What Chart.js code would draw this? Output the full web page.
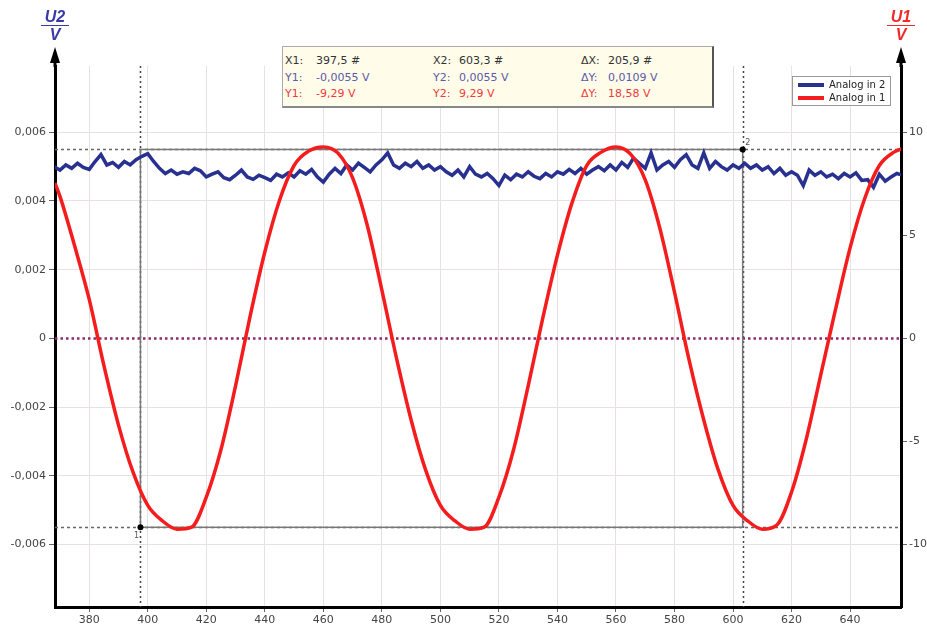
<!DOCTYPE html>
<html>
<head>
<meta charset="utf-8">
<script src="https://cdn.jsdelivr.net/npm/chart.js@4.4.1/dist/chart.umd.min.js"></script>
<style>
body { margin: 0; background: #fff; }
#wrap { position: relative; width: 927px; height: 635px; }
.title { position: absolute; width: 40px; text-align: center; font: italic bold 16px "Liberation Sans", Arial, sans-serif; }
.title .num { border-bottom: 1.5px solid currentColor; padding: 0 4px 1px; display: inline-block; line-height: 15px; }
.title .unit { display: block; line-height: 17px; }
#info { position: absolute; left: 282px; top: 46px; width: 429px; height: 59px; background: #fffcea;
  border: 1px solid #aaa; border-right: 2px solid #555; border-bottom: 2px solid #888;
  font: 11px "DejaVu Sans", sans-serif; }
#info span { position: absolute; line-height: 14px; white-space: nowrap; }
#legend { position: absolute; left: 792px; top: 76px; width: 97px; height: 28px; background: #fff;
  border: 1px solid #999; font: 10px "DejaVu Sans", sans-serif; color: #222; }
#legend div { position: absolute; left: 5px; height: 13px; line-height: 13px; white-space: nowrap; }
#legend i { display: inline-block; width: 26px; height: 4px; vertical-align: middle; margin-right: 5px; }
</style>
</head>
<body>
<div id="wrap">
  <canvas id="chart"></canvas>
  <div class="title" style="left:35px; top:8px; color:#3a3aa6;"><span class="num">U2</span><span class="unit">V</span></div>
  <div class="title" style="left:881px; top:8px; color:#ee2a2a;"><span class="num">U1</span><span class="unit">V</span></div>
  <div id="info"></div>
  <div id="legend"></div>
</div>
<script>
// x range of the view and axis ticks
var xMin = 368.3, xMax = 657.4;
var xTicks = [380, 400, 420, 440, 460, 480, 500, 520, 540, 560, 580, 600, 620, 640];
var u2Min = -0.00782, u2Max = 0.00793;
var u2Ticks = [-0.006, -0.004, -0.002, 0, 0.002, 0.004, 0.006];
var u1Min = -13.03, u1Max = 13.23;
var u1Ticks = [-10, -5, 0, 5, 10];

// Analog in 1 (U1, V)
var redX = [368.3, 370, 375, 380, 385, 390, 395, 400, 405, 410, 415, 420, 425, 430, 435, 440, 445, 450, 455, 460,
  465, 470, 475, 480, 485, 490, 495, 500, 505, 510, 515, 520, 525, 530, 535, 540, 545, 550, 555, 560,
  565, 570, 575, 580, 585, 590, 595, 600, 605, 610, 615, 620, 625, 630, 635, 640, 645, 650, 655, 660];
var redV = [7.55, 6.9, 4.5, 1.9, -1.3, -4.2, -6.5, -8.1, -8.85, -9.25, -9.15, -7.7, -5.4, -2.3, 1.1, 4.2, 6.7, 8.4, 9.1, 9.3,
  9.0, 7.8, 5.5, 2.35, -0.95, -3.95, -6.4, -8.1, -8.85, -9.25, -9.15, -7.7, -5.4, -2.3, 1.0, 4.05, 6.6, 8.4, 9.05, 9.3,
  8.95, 7.7, 5.35, 2.25, -1.05, -3.95, -6.4, -8.1, -8.85, -9.25, -9.05, -7.45, -4.9, -1.75, 1.4, 4.4, 6.8, 8.4, 9.05, 9.3];

// Analog in 2 (U2, V), one sample every 2 #, from 368
var blueStart = 368, blueStep = 2;
var blueV = [0.00500, 0.00490, 0.00505, 0.00495, 0.00510, 0.00498, 0.00492, 0.00515, 0.00535, 0.00505, 0.00512, 0.00498, 0.00515, 0.00505, 0.00520,
  0.00530, 0.00538, 0.00515, 0.00495, 0.00480, 0.00490, 0.00478, 0.00485, 0.00480, 0.00495, 0.00488, 0.00470, 0.00478, 0.00485, 0.00468, 0.00462, 0.00475, 0.00490, 0.00470, 0.00463, 0.00475, 0.00468, 0.00460, 0.00478, 0.00470, 0.00482,
  0.00470, 0.00488, 0.00478, 0.00492, 0.00470, 0.00455, 0.00478, 0.00495, 0.00480,
  0.00505, 0.00490, 0.00510, 0.00498, 0.00485, 0.00505, 0.00520, 0.00540, 0.00505, 0.00495, 0.00510, 0.00500, 0.00515, 0.00495, 0.00505, 0.00490, 0.00500, 0.00485,
  0.00475, 0.00490, 0.00470, 0.00500, 0.00478, 0.00470, 0.00480, 0.00465, 0.00445, 0.00475, 0.00462, 0.00478, 0.00470, 0.00485, 0.00472, 0.00465, 0.00480, 0.00470, 0.00485, 0.00478,
  0.00492, 0.00480, 0.00495, 0.00478, 0.00490, 0.00500,
  0.00488, 0.00505, 0.00490, 0.00512, 0.00498, 0.00525, 0.00510, 0.00495, 0.00540, 0.00490, 0.00505, 0.00515, 0.00498, 0.00520, 0.00535, 0.00505, 0.00495, 0.00540, 0.00495, 0.00515, 0.00500, 0.00490, 0.00505, 0.00495, 0.00510,
  0.00495, 0.00505, 0.00490, 0.00500, 0.00480, 0.00495, 0.00475, 0.00485, 0.00475, 0.00445, 0.00490, 0.00475, 0.00485, 0.00470, 0.00478, 0.00465, 0.00480, 0.00470, 0.00482, 0.00460, 0.00462, 0.00440, 0.00478, 0.00458, 0.00470, 0.00480, 0.00475];

// cursors
var cursorX = [397.5, 603.3];
var cursorY = [-0.0055, 0.0055];
var infoRows = [
  ['X1:', '397,5 #', 'X2:', '603,3 #', '\u0394X:', '205,9 #'],
  ['Y1:', '-0,0055 V', 'Y2:', '0,0055 V', '\u0394Y:', '0,0109 V'],
  ['Y1:', '-9,29 V', 'Y2:', '9,29 V', '\u0394Y:', '18,58 V']
];
var rowColors = ['#333', '#5a5aa8', '#ee3a3a'];
var legendNames = ['Analog in 2', 'Analog in 1'];
var legendColors = ['#28318f', '#f41c1c'];

// info box + legend
var info = document.getElementById('info');
var colLeft = [2, 33, 150, 176, 298, 325];
infoRows.forEach(function(row, r) {
  row.forEach(function(t, c) {
    var s = document.createElement('span');
    s.textContent = t;
    s.style.left = colLeft[c] + 'px';
    s.style.top = (7 + r * 16.5) + 'px';
    s.style.color = rowColors[r];
    info.appendChild(s);
  });
});
var legend = document.getElementById('legend');
legendNames.forEach(function(n, i) {
  var d = document.createElement('div');
  d.style.top = (1 + i * 13) + 'px';
  d.innerHTML = '<i style="background:' + legendColors[i] + '"></i>' + n;
  legend.appendChild(d);
});

var redData = redX.map(function(x, i) { return { x: x, y: redV[i] }; });
var blueData = blueV.map(function(v, i) { return { x: blueStart + i * blueStep, y: v }; });

var cursorPlugin = {
  id: 'cursors',
  beforeDatasetsDraw: function(chart) {
    var ctx = chart.ctx, a = chart.chartArea, x = chart.scales.x, y = chart.scales.y;
    ctx.save();
    // zero line
    ctx.strokeStyle = '#8e2a68';
    ctx.lineWidth = 2.5;
    ctx.setLineDash([2.5, 3]);
    var y0 = Math.round(y.getPixelForValue(0)) + 0.5;
    ctx.beginPath(); ctx.moveTo(a.left, y0); ctx.lineTo(a.right, y0); ctx.stroke();
    // dotted cursor lines
    ctx.strokeStyle = '#444';
    ctx.lineWidth = 1.5;
    ctx.setLineDash([2, 3]);
    cursorX.forEach(function(v) {
      var px = Math.round(x.getPixelForValue(v)) + 0.5;
      ctx.beginPath(); ctx.moveTo(px, a.top); ctx.lineTo(px, a.bottom); ctx.stroke();
    });
    ctx.strokeStyle = '#666';
    ctx.setLineDash([3, 3]);
    cursorY.forEach(function(v) {
      var py = Math.round(y.getPixelForValue(v)) + 0.5;
      ctx.beginPath(); ctx.moveTo(a.left, py); ctx.lineTo(a.right, py); ctx.stroke();
    });
    // box between cursors
    ctx.setLineDash([]);
    ctx.strokeStyle = '#777';
    ctx.lineWidth = 1.5;
    var x1 = x.getPixelForValue(cursorX[0]), x2 = x.getPixelForValue(cursorX[1]);
    var y1 = y.getPixelForValue(cursorY[0]), y2 = y.getPixelForValue(cursorY[1]);
    ctx.strokeRect(x1, y2, x2 - x1, y1 - y2);
    ctx.restore();
  },
  afterDatasetsDraw: function(chart) {
    var ctx = chart.ctx, x = chart.scales.x, y = chart.scales.y;
    ctx.save();
    ctx.fillStyle = '#000';
    for (var i = 0; i < 2; i++) {
      var px = x.getPixelForValue(cursorX[i]), py = y.getPixelForValue(cursorY[i]);
      ctx.beginPath(); ctx.arc(px, py, 3, 0, Math.PI * 2); ctx.fill();
    }
    ctx.fillStyle = '#555';
    ctx.font = '8px "DejaVu Sans", sans-serif';
    ctx.textAlign = 'center';
    ctx.fillText('1', x.getPixelForValue(cursorX[0]) - 4, y.getPixelForValue(cursorY[0]) + 11);
    ctx.fillText('2', x.getPixelForValue(cursorX[1]) + 5, y.getPixelForValue(cursorY[1]) - 4);
    ctx.restore();
  },
  afterDraw: function(chart) {
    var ctx = chart.ctx, a = chart.chartArea;
    ctx.save();
    ctx.strokeStyle = '#000';
    ctx.fillStyle = '#000';
    ctx.lineWidth = 3;
    [a.left, a.right].forEach(function(px) {
      ctx.beginPath(); ctx.moveTo(px, a.top + 1); ctx.lineTo(px, 58); ctx.stroke();
      ctx.beginPath(); ctx.moveTo(px, 47); ctx.lineTo(px - 5, 63); ctx.lineTo(px + 5, 63); ctx.closePath(); ctx.fill();
    });
    ctx.restore();
  }
};

var tickFont = { family: '"DejaVu Sans", sans-serif', size: 11 };
var gridColor = '#e9e1e1';

new Chart(document.getElementById('chart'), {
  type: 'line',
  data: {
    datasets: [{
      label: 'Analog in 1',
      data: redData,
      yAxisID: 'y1',
      borderColor: '#f41c1c',
      borderWidth: 3.5,
      pointRadius: 0,
      cubicInterpolationMode: 'monotone'
    }, {
      label: 'Analog in 2',
      data: blueData,
      yAxisID: 'y',
      borderColor: '#28318f',
      borderWidth: 3.5,
      pointRadius: 0,
      tension: 0
    }]
  },
  plugins: [cursorPlugin],
  options: {
    responsive: true,
    maintainAspectRatio: false,
    animation: false,
    events: [],
    layout: { padding: { top: 66, left: 0, right: 0, bottom: 0 } },
    plugins: { legend: { display: false }, tooltip: { enabled: false } },
    scales: {
      x: {
        type: 'linear',
        min: xMin,
        max: xMax,
        afterBuildTicks: function(s) { s.ticks = xTicks.map(function(v) { return { value: v }; }); },
        afterFit: function(s) { s.height = 28; },
        grid: { color: gridColor, tickColor: '#666', tickLength: 5 },
        border: { color: '#000', width: 3 },
        ticks: { color: '#444', font: tickFont, padding: 2, maxRotation: 0 }
      },
      y: {
        type: 'linear',
        position: 'left',
        min: u2Min,
        max: u2Max,
        afterBuildTicks: function(s) { s.ticks = u2Ticks.map(function(v) { return { value: v }; }); },
        afterFit: function(s) { s.width = 55; },
        grid: {
          color: function(c) { return c.tick && c.tick.value === 0 ? 'rgba(0,0,0,0)' : gridColor; },
          tickColor: '#666',
          tickLength: 6
        },
        border: { color: '#000', width: 3 },
        ticks: {
          color: '#444', font: tickFont, padding: 3,
          callback: function(v) { return v === 0 ? '0' : v.toFixed(3).replace('.', ','); }
        }
      },
      y1: {
        type: 'linear',
        position: 'right',
        min: u1Min,
        max: u1Max,
        afterBuildTicks: function(s) { s.ticks = u1Ticks.map(function(v) { return { value: v }; }); },
        afterFit: function(s) { s.width = 26; },
        grid: { drawOnChartArea: false, tickColor: '#666', tickLength: 6 },
        border: { color: '#000', width: 3 },
        ticks: { color: '#444', font: tickFont, padding: 2 }
      }
    }
  }
});
</script>
</body>
</html>
